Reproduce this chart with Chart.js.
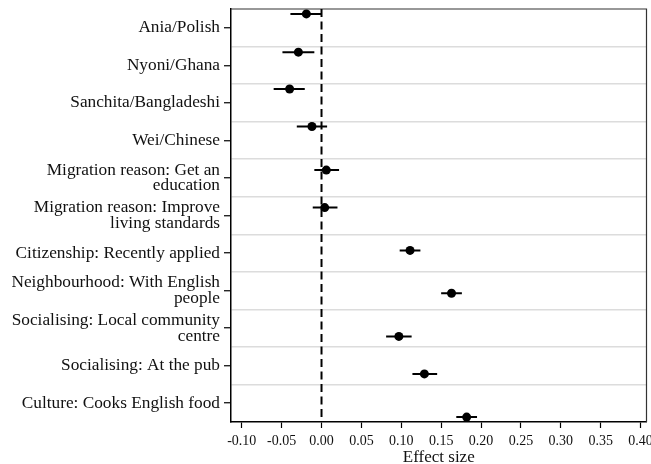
<!DOCTYPE html>
<html>
<head>
<meta charset="utf-8">
<script src="https://cdn.jsdelivr.net/npm/chart.js@4/dist/chart.umd.min.js"></script>
<style>
  html, body { margin: 0; padding: 0; background: #fff; }
  #wrap { width: 651px; height: 464px; }
</style>
</head>
<body>
<div id="wrap"><canvas id="c" width="651" height="464"></canvas></div>
<script>
// Row labels, top to bottom (two-line labels given as arrays)
const categories = [
  'Ania/Polish',
  'Nyoni/Ghana',
  'Sanchita/Bangladeshi',
  'Wei/Chinese',
  ['Migration reason: Get an', 'education'],
  ['Migration reason: Improve', 'living standards'],
  'Citizenship: Recently applied',
  ['Neighbourhood: With English', 'people'],
  ['Socialising: Local community', 'centre'],
  'Socialising: At the pub',
  'Culture: Cooks English food'
];

// Point estimates and 95% confidence bounds
const estimate = [-0.019, -0.029, -0.040, -0.012, 0.006, 0.004, 0.111, 0.163, 0.097, 0.129, 0.182];
const ciLow    = [-0.039, -0.049, -0.060, -0.031, -0.009, -0.011, 0.098, 0.150, 0.081, 0.114, 0.169];
const ciHigh   = [ 0.000, -0.009, -0.021,  0.007,  0.022,  0.020, 0.124, 0.176, 0.113, 0.145, 0.195];

// Vertical location of each estimate on the row scale (row k spans k..k+1)
const markerRow = [0.13, 1.15, 2.13, 3.13, 4.29, 5.29, 6.43, 7.57, 8.72, 9.72, 10.87];

// Effect-size axis ticks
const xTicks = [-0.10, -0.05, 0.00, 0.05, 0.10, 0.15, 0.20, 0.25, 0.30, 0.35, 0.40];

const SERIF = "'Liberation Serif', 'Times New Roman', serif";
const nRows = categories.length;

const pointData = estimate.map((v, i) => ({ x: v, y: markerRow[i] }));

const ciSets = categories.map((_, i) => ({
  type: 'scatter',
  data: [{ x: ciLow[i], y: markerRow[i] }, { x: ciHigh[i], y: markerRow[i] }],
  showLine: true,
  borderColor: '#000',
  borderWidth: 2,
  pointRadius: 0,
  order: 2
}));

// Outer frame on the top and right of the plotting area
const framePlugin = {
  id: 'frame',
  beforeDatasetsDraw(chart) {
    const { ctx, chartArea: a } = chart;
    ctx.save();
    ctx.strokeStyle = '#333';
    ctx.lineWidth = 1.2;
    ctx.beginPath();
    ctx.moveTo(a.left, a.top);
    ctx.lineTo(a.right, a.top);
    ctx.lineTo(a.right, a.bottom);
    ctx.stroke();
    ctx.restore();
  }
};

new Chart(document.getElementById('c'), {
  type: 'scatter',
  data: {
    datasets: [
      {
        data: pointData,
        backgroundColor: '#000',
        borderColor: '#000',
        borderWidth: 0,
        pointRadius: 4.5,
        showLine: false,
        order: 1
      },
      ...ciSets,
      {
        data: [{ x: 0, y: 0 }, { x: 0, y: nRows }],
        showLine: true,
        borderColor: '#000',
        borderWidth: 2,
        borderDash: [8, 4.5],
        pointRadius: 0,
        order: 3
      }
    ]
  },
  options: {
    responsive: false,
    animation: false,
    events: [],
    layout: { padding: { top: 9, right: 2, left: 0, bottom: 0 } },
    plugins: {
      legend: { display: false },
      tooltip: { enabled: false }
    },
    scales: {
      x: {
        type: 'linear',
        position: 'bottom',
        min: -0.1135,
        max: 0.4075,
        afterBuildTicks: s => { s.ticks = xTicks.map(v => ({ value: v })); },
        afterFit: s => {
          s.height = 42;
          s.paddingLeft = 0;
          s.paddingRight = 0;
        },
        ticks: {
          autoSkip: false,
          maxRotation: 0,
          padding: 5,
          color: '#111',
          font: { family: SERIF, size: 14 },
          callback: v => v.toFixed(2)
        },
        grid: {
          drawOnChartArea: false,
          tickLength: 6,
          tickColor: '#000',
          tickWidth: 1.2
        },
        border: { color: '#000', width: 1.5 },
        title: {
          display: true,
          text: 'Effect size',
          color: '#111',
          font: { family: SERIF, size: 17, lineHeight: 1 },
          padding: { top: 0, bottom: -2 }
        }
      },
      y: {
        type: 'linear',
        position: 'left',
        reverse: true,
        min: 0,
        max: nRows,
        afterBuildTicks: s => {
          const t = [];
          for (let k = 0; k <= nRows * 2; k++) t.push({ value: k / 2 });
          s.ticks = t;
        },
        afterFit: s => {
          s.width = 231;
          s.paddingTop = 0;
          s.paddingBottom = 0;
        },
        ticks: {
          autoSkip: false,
          padding: 4,
          color: '#111',
          font: { family: SERIF, size: 17.3, lineHeight: 0.91 },
          callback: v => (v % 1 === 0.5 ? categories[Math.floor(v)] : '')
        },
        grid: {
          lineWidth: 1.5,
          color: c => {
            const v = c.tick ? c.tick.value : -1;
            return (v % 1 === 0 && v > 0 && v < nRows) ? '#dcdcdc' : 'rgba(0,0,0,0)';
          },
          tickColor: c => (c.tick && c.tick.value % 1 === 0.5 ? '#000' : 'rgba(0,0,0,0)'),
          tickLength: 7,
          tickWidth: 1.2
        },
        border: { color: '#000', width: 1.5 }
      }
    }
  },
  plugins: [framePlugin]
});
</script>
</body>
</html>
